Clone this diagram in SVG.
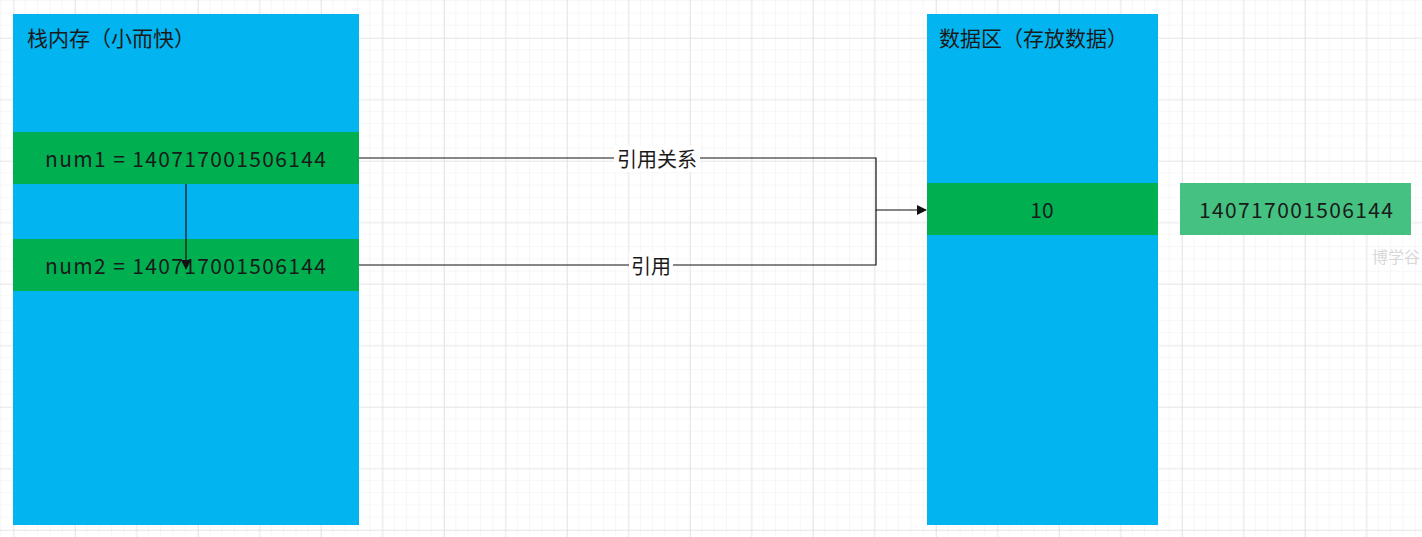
<svg xmlns="http://www.w3.org/2000/svg" width="1422" height="537" viewBox="0 0 1422 537">
<style>
.blue{fill:#02b4ef}
.green{fill:#00b050}
.t{font-family:"Noto Sans CJK SC","Noto Sans",sans-serif;font-size:21px;fill:#1a1a1a}
.num{font-family:"Noto Sans CJK SC","Noto Sans",sans-serif;font-size:21px;fill:#1a1a1a}
.lbl{font-family:"Noto Sans CJK SC",sans-serif;font-size:20px;fill:#1a1a1a;text-anchor:middle}
.edge{fill:none;stroke:#111;stroke-width:1.2}
</style>
<defs>
<pattern id="minor" x="1.2" y="1.1" width="12.3" height="12.3" patternUnits="userSpaceOnUse">
<path d="M12.3 0V12.3M0 12.3H12.3" fill="none" stroke="#efefef" stroke-width="1"/>
</pattern>
<pattern id="major" x="13.5" y="38" width="61.5" height="61.5" patternUnits="userSpaceOnUse">
<path d="M0 0V61.5M0 0H61.5" fill="none" stroke="#dcdcdc" stroke-width="1.2"/>
</pattern>
<marker id="arr" markerWidth="10" markerHeight="10" refX="9" refY="5" orient="auto" markerUnits="userSpaceOnUse">
<path d="M0 0L10 5L0 10Z" fill="#111"/>
</marker>
</defs>
<rect width="1422" height="537" fill="#fff"/>
<rect width="1422" height="537" fill="url(#minor)"/>
<rect width="1422" height="537" fill="url(#major)"/>

<g id="stack">
<rect class="blue" x="13" y="14" width="346" height="511"/>
<text class="t" x="27" y="46">栈内存（小而快）</text>
</g>
<g id="num1">
<rect class="green" x="13" y="132" width="346" height="52"/>
<text class="num" x="45" y="166.5" textLength="281" lengthAdjust="spacing">num1 = 140717001506144</text>
</g>
<g id="num2">
<rect class="green" x="13" y="239" width="346" height="52"/>
<text class="num" x="45" y="274" textLength="281" lengthAdjust="spacing">num2 = 140717001506144</text>
</g>
<g id="data">
<rect class="blue" x="927" y="14" width="231" height="511"/>
<text class="t" x="939" y="46">数据区（存放数据）</text>
</g>
<g id="ten">
<rect class="green" x="927" y="183" width="231" height="52"/>
<text class="num" x="1042" y="218" text-anchor="middle">10</text>
</g>
<g id="addr">
<rect x="1180" y="183" width="231" height="52" fill="#45c281"/>
<text class="num" x="1199" y="218" textLength="194" lengthAdjust="spacing">140717001506144</text>
</g>
<g id="watermark">
<text x="1372" y="263" font-family="Noto Sans CJK SC,sans-serif" font-size="16" fill="#d8d8d8">博学谷</text>
</g>

<g id="connectors">
<path class="edge" d="M359 158H876V210H926" marker-end="url(#arr)"/>
<path class="edge" d="M359 265H876V210"/>
<path class="edge" d="M186 184V269" marker-end="url(#arr)"/>
<rect x="614" y="146" width="86" height="26" fill="#fff"/>
<text class="lbl" x="657" y="167">引用关系</text>
<rect x="629" y="253" width="44" height="26" fill="#fff"/>
<text class="lbl" x="651" y="274">引用</text>
</g>
</svg>
